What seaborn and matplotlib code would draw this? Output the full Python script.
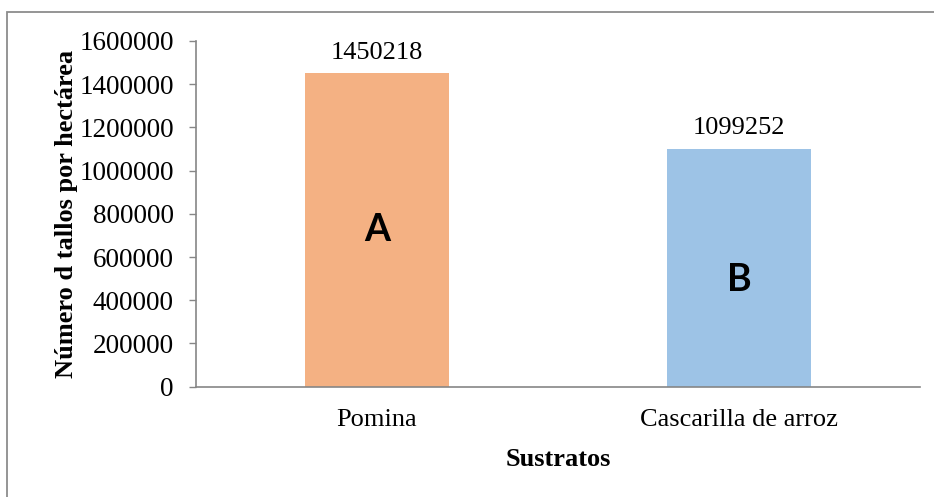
import matplotlib
matplotlib.use("Agg")
import matplotlib.pyplot as plt
import matplotlib.patches as mpatches
import seaborn as sns
import pandas as pd

# Stem density per substrate
categories = ["Pomina", "Cascarilla de arroz"]
values = [1450218, 1099252]
groups = ["A", "B"]
group_y = [725000, 495000]
colors = ["#F4B183", "#9DC3E6"]
yticks = [0, 200000, 400000, 600000, 800000, 1000000, 1200000, 1400000, 1600000]

df = pd.DataFrame({"Sustrato": categories, "Tallos": values})

sns.set_style("white")
plt.rcParams["font.family"] = ["Liberation Serif", "DejaVu Serif"]
plt.rcParams["text.color"] = "black"
plt.rcParams["axes.labelcolor"] = "black"
plt.rcParams["xtick.color"] = "black"
plt.rcParams["ytick.color"] = "black"

fig = plt.figure(figsize=(9.34, 4.97), dpi=100)
fig.patch.set_facecolor("white")

# outer frame of the chart area
fig.add_artist(mpatches.Rectangle((7 / 934, -0.1), 1.2, (497 - 11.5) / 497 + 0.1,
                                  transform=fig.transFigure, fill=False,
                                  edgecolor="#8C8C8C", linewidth=1.3))

ax = fig.add_axes([196 / 934, (497 - 386.7) / 497, (920 - 196) / 934, (386.7 - 41) / 497])
sns.barplot(data=df, x="Sustrato", y="Tallos", hue="Sustrato", palette=colors,
            width=0.4, saturation=1, legend=False, ax=ax, edgecolor="none")

ax.set_xlim(-0.5, 1.5)
ax.set_ylim(0, 1600000)
ax.set_yticks(yticks)
ax.set_yticklabels([str(v) for v in yticks], fontsize=19.5)

# category boundaries carry the tick marks; labels sit at the centres
ax.set_xticks([-0.5, 0.5, 1.5])
ax.set_xticklabels(["", "", ""])
ax.set_xticks([0, 1], minor=True)
ax.set_xticklabels(categories, minor=True, fontsize=19)
ax.tick_params(axis="x", which="major", length=5, width=1, color="#868686", direction="out")
ax.tick_params(axis="x", which="minor", length=0, pad=16)
ax.tick_params(axis="y", length=5, width=1, color="#868686", direction="out", pad=11, left=True)

for side in ["top", "right"]:
    ax.spines[side].set_visible(False)
for side in ["left", "bottom"]:
    ax.spines[side].set_color("#868686")
    ax.spines[side].set_linewidth(1.2)

ax.set_xlabel("Sustratos", fontsize=19, fontweight="bold", labelpad=12)
ax.set_ylabel("Número d tallos por hectárea", fontsize=19, fontweight="bold", labelpad=1)

for i, v in enumerate(values):
    ax.text(i, v + 45000, str(v), ha="center", va="bottom", fontsize=19)
    ax.text(i, group_y[i], groups[i], ha="center", va="center", fontsize=27,
            fontweight="bold", family=["Lato", "DejaVu Sans"])

fig.savefig("out.png", dpi=100, facecolor="white")
